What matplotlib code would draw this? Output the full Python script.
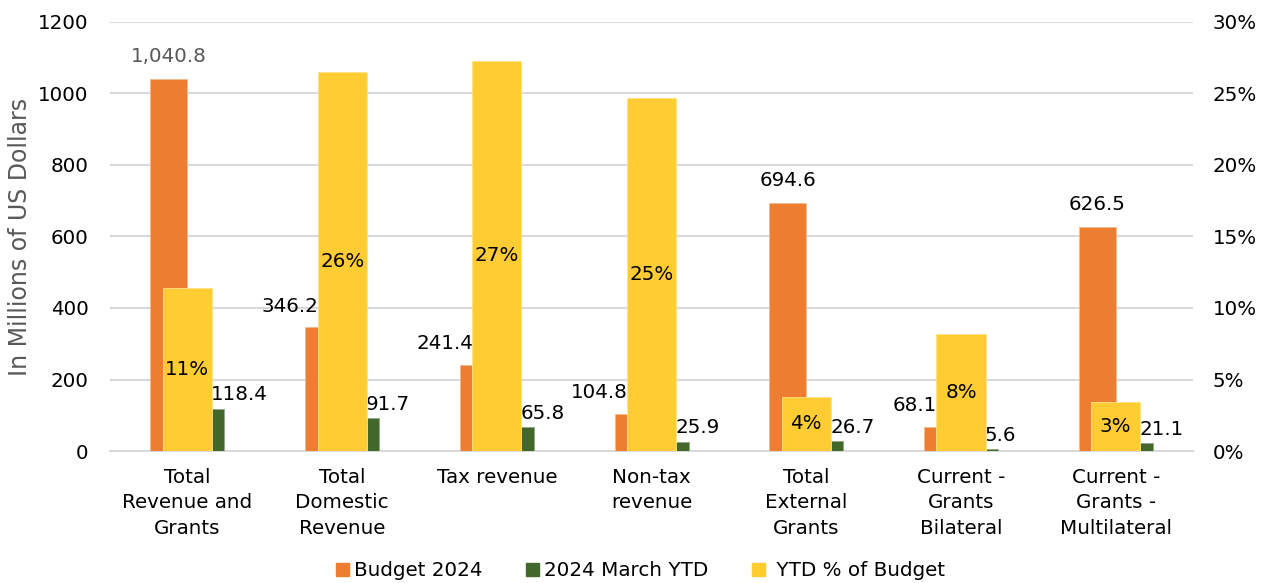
import matplotlib.pyplot as plt
from matplotlib.patches import Patch
from matplotlib.ticker import PercentFormatter
import numpy as np

plt.rcParams['font.family'] = ['DejaVu Sans']

categories = ["Total\nRevenue and\nGrants", "Total\nDomestic\nRevenue", "Tax revenue",
              "Non-tax\nrevenue", "Total\nExternal\nGrants", "Current -\nGrants\nBilateral",
              "Current -\nGrants -\nMultilateral"]
budget = [1040.8, 346.2, 241.4, 104.8, 694.6, 68.1, 626.5]
ytd = [118.4, 91.7, 65.8, 25.9, 26.7, 5.6, 21.1]
pct = [0.114, 0.265, 0.273, 0.247, 0.038, 0.082, 0.034]

c_orange = "#ED7D31"
c_green = "#43682B"
c_yellow = "#FFCC33"
grid_c = "#D9D9D9"
fs = 14.3

fig = plt.figure(figsize=(12.68, 5.83), dpi=100)
ax = fig.add_axes([0.0868, 0.2264, 0.8541, 0.7359])
ax2 = ax.twinx()

x = np.arange(len(categories))
w = 0.239
wy = 0.317

ax.bar(x - w / 2, budget, w, color=c_orange, edgecolor="#F6B98F", linewidth=0.6, zorder=3)
ax.bar(x + w / 2, ytd, w, color=c_green, edgecolor="#8FA67F", linewidth=0.6, zorder=3)
ax2.bar(x, pct, wy, color=c_yellow, edgecolor="#FFE28A", linewidth=0.6, zorder=3)

ax.set_ylim(0, 1200)
ax.set_yticks(range(0, 1201, 200))
ax2.set_ylim(0, 0.30)
ax2.set_yticks(np.arange(0, 0.301, 0.05))
ax2.yaxis.set_major_formatter(PercentFormatter(1.0, decimals=0))
ax.set_xlim(-0.5, len(categories) - 0.5)
ax.set_xticks(x)
ax.set_xticklabels(categories, linespacing=1.45)

ax.grid(axis="y", color=grid_c, linewidth=1.5, zorder=0)
for a in (ax, ax2):
    for s in a.spines.values():
        s.set_visible(False)
    a.tick_params(length=0, labelsize=fs, colors="black")
ax.spines["bottom"].set_visible(True)
ax.spines["bottom"].set_color(grid_c)
ax.spines["bottom"].set_linewidth(1.5)
ax.tick_params(axis="y", pad=15.5)
ax.tick_params(axis="x", pad=12)
ax2.tick_params(axis="y", pad=14)

ax.set_ylabel("In Millions of US Dollars", fontsize=17, color="#595959", labelpad=4)

# labels
scale = 1200 / 0.30
for i in range(len(categories)):
    yel_top = pct[i] * scale
    col = "#595959" if i == 0 else "black"
    if yel_top > budget[i]:
        ax.annotate(f"{budget[i]:,.1f}", (x[i] - wy / 2 + 0.005, budget[i]), xytext=(0, 15),
                    textcoords="offset points", ha="right", va="center", fontsize=fs, color=col, zorder=6)
    else:
        ax.annotate(f"{budget[i]:,.1f}", (x[i] - w / 2, budget[i]), xytext=(0, 16),
                    textcoords="offset points", ha="center", va="center", fontsize=fs, color=col, zorder=6)
    ax.annotate(f"{ytd[i]:,.1f}", (x[i] + wy / 2 - 0.005, ytd[i]), xytext=(0, 10),
                textcoords="offset points", ha="left", va="center", fontsize=fs, color="black", zorder=6)
    ax2.text(x[i], pct[i] / 2, f"{pct[i]:.0%}", ha="center", va="center", fontsize=fs, zorder=6)

handles = [Patch(color=c_orange), Patch(color=c_green), Patch(color=c_yellow)]
fig.legend(handles, ["Budget 2024", "2024 March YTD", " YTD % of Budget"], loc="lower center",
           bbox_to_anchor=(0.505, -0.026), ncol=3, frameon=False, fontsize=fs,
           handlelength=0.65, handleheight=0.65, handletextpad=0.25, columnspacing=2.2)

fig.savefig("out.png", dpi=100)
